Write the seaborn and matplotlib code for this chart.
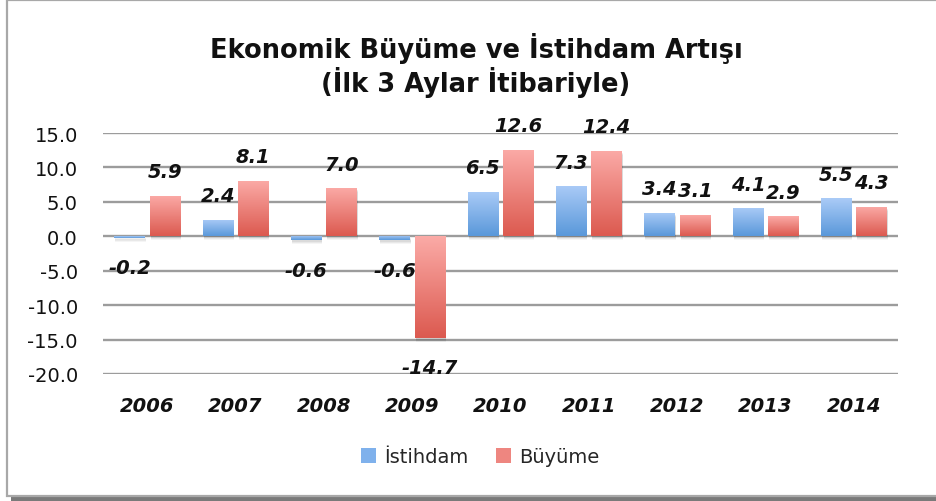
import numpy as np
import pandas as pd
import matplotlib
matplotlib.use("Agg")
import matplotlib.pyplot as plt
import seaborn as sns
from matplotlib.patches import Rectangle, Patch
from matplotlib.colors import LinearSegmentedColormap
from matplotlib import transforms

years = ["2006", "2007", "2008", "2009", "2010", "2011", "2012", "2013", "2014"]
istihdam = [-0.2, 2.4, -0.6, -0.6, 6.5, 7.3, 3.4, 4.1, 5.5]
buyume = [5.9, 8.1, 7.0, -14.7, 12.6, 12.4, 3.1, 2.9, 4.3]
series_names = ["İstihdam", "Büyüme"]
yticks = [15.0, 10.0, 5.0, 0.0, -5.0, -10.0, -15.0, -20.0]

df = pd.DataFrame({
    "Yıl": years * 2,
    "Değer": istihdam + buyume,
    "Seri": [series_names[0]] * len(years) + [series_names[1]] * len(years),
})

sns.set_theme(style="white")
plt.rcParams["font.family"] = ["DejaVu Sans"]

W, H = 936, 502
fig = plt.figure(figsize=(W / 100, H / 100), dpi=100)
fig.patch.set_facecolor("white")

# frame with shadow
fig.patches.append(Rectangle((11 / W, 0), 1, 5 / H, transform=fig.transFigure,
                             facecolor="#7a7a7a", edgecolor="none", zorder=-2))
fig.patches.append(Rectangle((7 / W, 5 / H), 1, 1 - 6 / H, transform=fig.transFigure,
                             facecolor="white", edgecolor="#a8a8a8", lw=1.6, zorder=-1))

ax = fig.add_axes([103 / W, 1 - 375 / H, (898 - 103) / W, (375 - 134) / H])
ax.set_facecolor("none")
ax.set_zorder(1)

grad_colors = {
    "İstihdam": ("#aacbf7", "#5a98da"),
    "Büyüme": ("#fbaaa6", "#dc5a50"),
}
palette = {k: v[1] for k, v in grad_colors.items()}

sns.barplot(data=df, x="Yıl", y="Değer", hue="Seri", palette=palette, ax=ax,
            order=years, hue_order=series_names, width=0.8, gap=0.14,
            legend=False, zorder=3)

ax.set_ylim(-20, 15)
ax.set_yticks(yticks)
ax.set_yticklabels([f"{v:.1f}" for v in yticks], fontsize=14, color="#111111")
ax.grid(axis="y", color="#9c9c9c", lw=1.7, zorder=0)
ax.grid(axis="x", visible=False)
ax.set_axisbelow(True)
for s in ax.spines.values():
    s.set_visible(False)
ax.tick_params(axis="y", length=0, pad=18)
ax.tick_params(axis="x", length=0, pad=16)
for lbl in ax.get_xticklabels():
    lbl.set_fontsize(14)
    lbl.set_fontweight("bold")
    lbl.set_fontstyle("italic")
    lbl.set_color("#111111")
ax.set_xlabel("")
ax.set_ylabel("")

# gradient fill + shadow + labels
patches = list(ax.patches)
nb = len(years)
values_by_series = [istihdam, buyume]
for i, p in enumerate(patches[: 2 * nb]):
    s = series_names[i // nb]
    val = values_by_series[i // nb][i % nb]
    x0 = p.get_x()
    w = p.get_width()
    y0 = min(p.get_y(), p.get_y() + p.get_height())
    y1 = max(p.get_y(), p.get_y() + p.get_height())
    top, bot = grad_colors[s]
    cmap = LinearSegmentedColormap.from_list("g", [bot, top])
    grad = np.linspace(0, 1, 64).reshape(-1, 1)
    # soft shadow
    for k, a in enumerate([0.06, 0.05, 0.04]):
        sh_off = transforms.offset_copy(ax.transData, fig=fig, x=1, y=-(2 + k), units="dots")
        ax.add_patch(Rectangle((x0, y0), w, y1 - y0, transform=sh_off,
                               facecolor="#000000", alpha=a, edgecolor="none", zorder=2))
    im = ax.imshow(grad, extent=[x0, x0 + w, y0, y1], origin="lower", cmap=cmap,
                   aspect="auto", zorder=3, interpolation="bilinear")
    im.set_clip_path(p)
    p.set_facecolor("none")
    p.set_edgecolor("none")
    # label
    cx = x0 + w / 2
    if val >= 0:
        off = transforms.offset_copy(ax.transData, fig=fig, x=0, y=24, units="dots")
        yy = y1
    else:
        off = transforms.offset_copy(ax.transData, fig=fig, x=0, y=-30, units="dots")
        yy = y0
    ax.text(cx, yy, f"{val:.1f}", transform=off, ha="center", va="center",
            fontsize=14, fontweight="bold", fontstyle="italic", color="#111111",
            zorder=5)

ax.set_xlim(-0.5, len(years) - 0.5)

fig.text(476 / W, 1 - 48 / H, "Ekonomik Büyüme ve İstihdam Artışı",
         ha="center", va="center", fontsize=18.5, fontweight="bold",
         family=["DejaVu Sans"], color="#111111")
fig.text(476 / W, 1 - 82 / H, "(İlk 3 Aylar İtibariyle)",
         ha="center", va="center", fontsize=18.5, fontweight="bold",
         family=["DejaVu Sans"], color="#111111")

handles = [Patch(facecolor="#7fb1ec", edgecolor="none", label=series_names[0]),
           Patch(facecolor="#ee8680", edgecolor="none", label=series_names[1])]
fig.legend(handles=handles, loc="center", bbox_to_anchor=(480 / W, 1 - 458 / H),
           ncol=2, frameon=False, prop={"family": "DejaVu Sans", "size": 14},
           handlelength=0.8, handleheight=0.8, handletextpad=0.4, columnspacing=1.4)

fig.savefig("out.png", dpi=100, facecolor="white")
